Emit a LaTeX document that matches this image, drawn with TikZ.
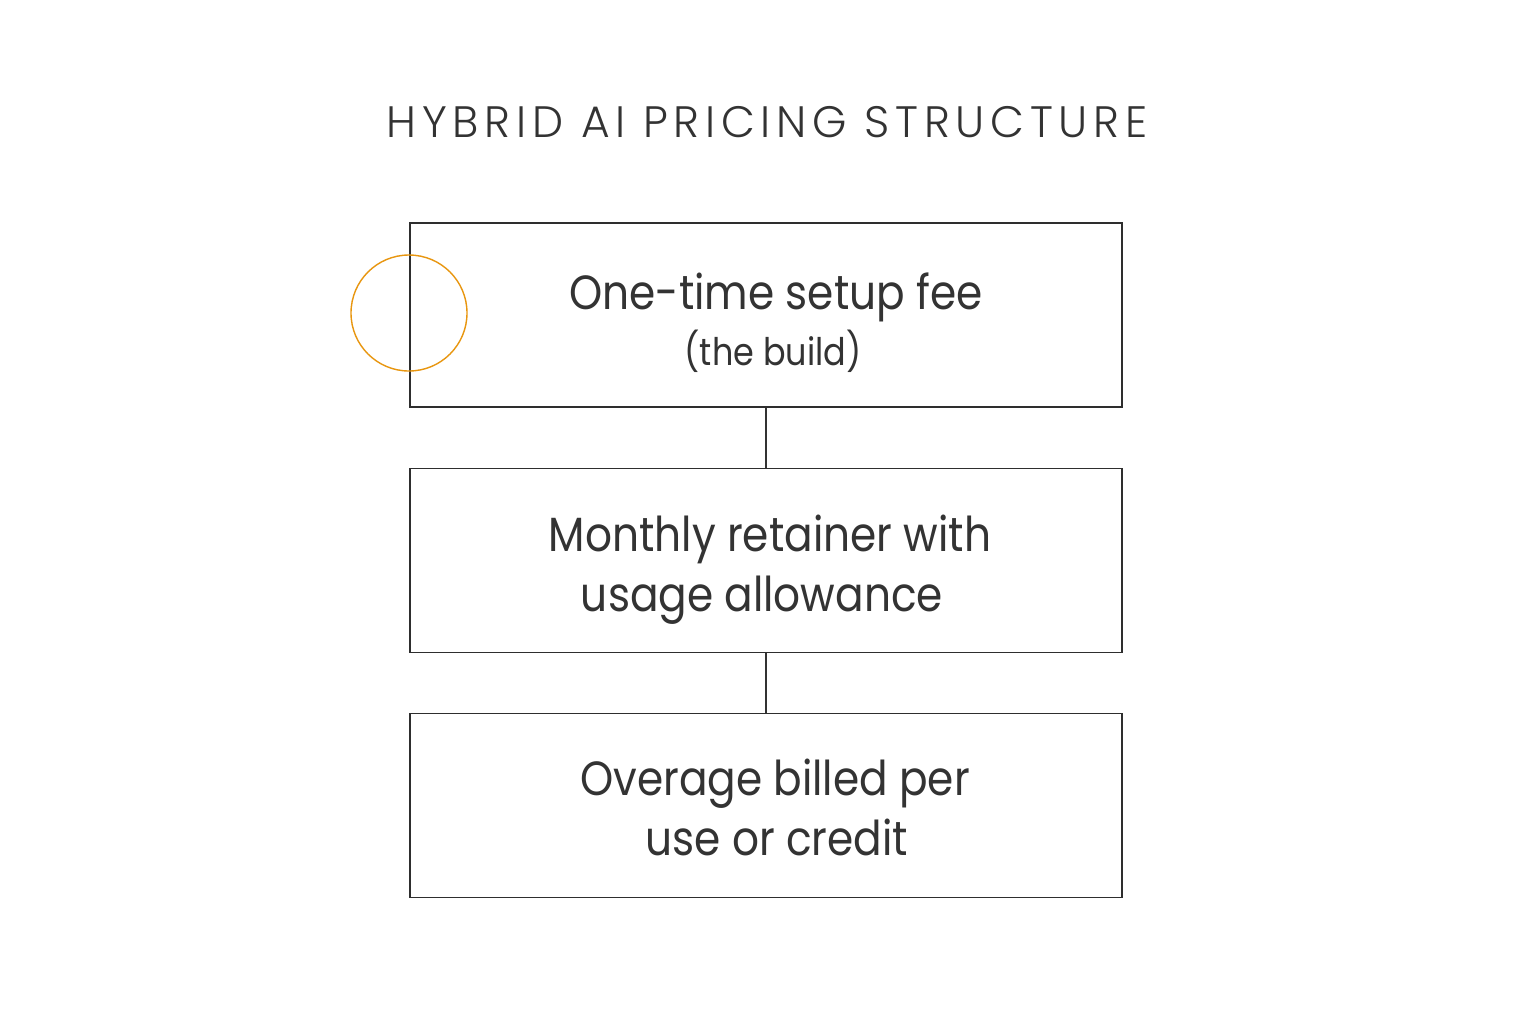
\documentclass[tikz,border=0pt]{standalone}
\usepackage{fontspec}
\setmainfont{Poppins}
\newfontfamily\titlefont[LetterSpace=13]{Poppins Light}
\newfontfamily\bodyfont[FakeStretch=0.88]{Poppins}
\definecolor{ink}{HTML}{333333}
\definecolor{orng}{HTML}{E8960F}
\begin{document}
\begin{tikzpicture}[x=0.5pt,y=-0.5pt,
  box/.style={draw=ink!90!black, line width=0.7pt, minimum width=356pt, minimum height=92pt, inner sep=0pt},
  lbl/.style={text=ink, font=\bodyfont\fontsize{24}{28}\selectfont, anchor=base, inner sep=0pt},
  sub/.style={text=ink, font=\bodyfont\fontsize{19}{22}\selectfont, anchor=base, inner sep=0pt},
  conn/.style={draw=ink, line width=0.6pt}]
\useasboundingbox[fill=white] (0,0) rectangle (1536,1024);
\node[text=ink, font=\titlefont\fontsize{22}{26}\selectfont, anchor=base, inner sep=0pt] (title) at (767,137) {HYBRID AI PRICING STRUCTURE};
\node[box] (b1) at (766,315) {};
\node[box] (b2) at (766,560.5) {};
\node[box] (b3) at (766,805.5) {};
\node[lbl] (t1) at (776,309) {One-time setup fee};
\node[sub] (s1) at (773,365) {(the build)};
\node[lbl] (t2) at (770,551) {Monthly retainer with};
\node[lbl] (t2b) at (762,611) {usage allowance};
\node[lbl] (t3) at (775,795) {Overage billed per};
\node[lbl] (t3b) at (777,855) {use or credit};
\draw[conn] (b1.south) -- (b2.north);
\draw[conn] (b2.south) -- (b3.north);
\node[draw=orng, line width=0.7pt, circle, minimum size=58pt, inner sep=0pt] (c) at (409,313) {};
\end{tikzpicture}
\end{document}
